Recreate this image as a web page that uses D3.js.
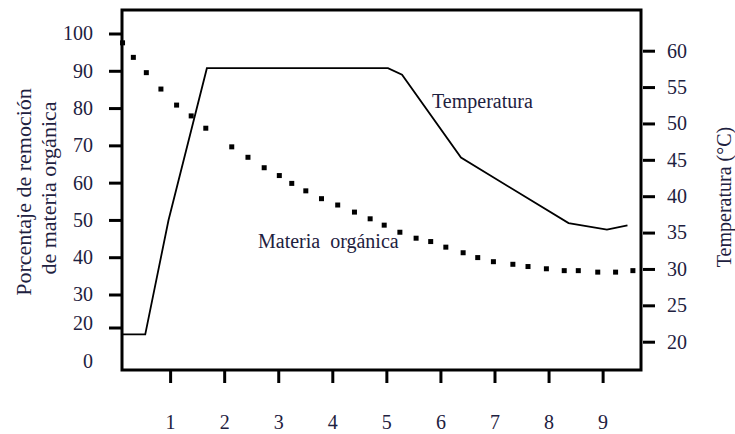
<!DOCTYPE html>
<html>
<head>
<meta charset="utf-8">
<script src="https://cdn.jsdelivr.net/npm/d3@7"></script>
<style>
  body { margin: 0; background: #fff; }
  text { font-family: "Liberation Serif", "Times New Roman", serif; fill: #1e2140; }
</style>
</head>
<body>
<div id="chart"></div>
<script>
// time axis (x), dotted series = % removal of organic matter, line = temperature
const xTicks = [1, 2, 3, 4, 5, 6, 7, 8, 9];
const leftTicks = [0, 20, 30, 40, 50, 60, 70, 80, 90, 100];
const rightTicks = [20, 25, 30, 35, 40, 45, 50, 55, 60];

const materiaX = [0.12, 0.32, 0.56, 0.83, 1.12, 1.39, 1.66, 2.14, 2.44, 2.74, 3.02, 3.25, 3.51, 3.80,
  4.10, 4.41, 4.70, 4.96, 5.25, 5.55, 5.82, 6.10, 6.42, 6.69, 6.98, 7.34, 7.62, 7.96, 8.29, 8.55,
  8.91, 9.24, 9.56];
const materiaY = [97.5, 93.6, 89.5, 85.1, 80.8, 77.9, 74.6, 69.6, 66.8, 64.0, 61.9, 59.8, 57.8, 55.7,
  54.0, 52.1, 50.3, 48.6, 46.7, 45.1, 44.2, 42.7, 41.2, 39.9, 38.8, 38.1, 37.5, 36.9, 36.4, 36.4,
  36.0, 36.0, 36.4];

const tempX = [0.11, 0.54, 0.97, 1.68, 5.03, 5.29, 6.38, 8.37, 9.08, 9.46];
const tempY = [21.0, 21.0, 36.7, 57.6, 57.6, 56.7, 45.3, 36.3, 35.4, 36.0];

const w = 735;
const h = 434;
const frame = { left: 122, right: 641, top: 10, bottom: 370 };

const xScale = d3.scaleLinear().domain([0.11, 9.71]).range([frame.left, frame.right]);
// left axis is broken below 20 (0 sits just under the 20 tick)
const yLeft = d3.scaleLinear().domain([0, 20, 30, 100]).range([361, 327.5, 294.5, 33.5]);
const yRight = d3.scaleLinear().domain([20, 60]).range([341.7, 50.7]);

const svg = d3.select("#chart")
  .append("svg")
  .attr("width", w)
  .attr("height", h);

// frame
svg.append("rect")
  .attr("x", frame.left)
  .attr("y", frame.top)
  .attr("width", frame.right - frame.left)
  .attr("height", frame.bottom - frame.top)
  .attr("fill", "none")
  .attr("stroke", "#000")
  .attr("stroke-width", 3);

const styleAxis = (g) => {
  g.select(".domain").remove();
  g.selectAll(".tick line").attr("stroke", "#000").attr("stroke-width", 3);
  g.selectAll(".tick text").attr("font-size", 20).attr("fill", "#1e2140")
    .attr("font-family", "Liberation Serif, serif");
};

svg.append("g")
  .attr("transform", `translate(${frame.left}, 0)`)
  .call(d3.axisLeft(yLeft).tickValues(leftTicks).tickSize(13).tickPadding(16))
  .call(styleAxis)
  .call(g => g.selectAll(".tick").filter(d => d === 0).select("line").remove())
  .call(g => g.selectAll(".tick").filter(d => d === 20).select("text").attr("y", -4));

svg.append("g")
  .attr("transform", `translate(${frame.right + 2}, 0)`)
  .call(d3.axisRight(yRight).tickValues(rightTicks).tickSize(12).tickPadding(12))
  .call(styleAxis);

svg.append("g")
  .attr("transform", `translate(0, ${frame.bottom})`)
  .call(d3.axisBottom(xScale).tickValues(xTicks).tickSize(13).tickPadding(32))
  .call(styleAxis);

// temperature line
const line = d3.line()
  .x((d, i) => xScale(tempX[i]))
  .y(d => yRight(d));

svg.append("path")
  .datum(tempY)
  .attr("d", line)
  .attr("fill", "none")
  .attr("stroke", "#000")
  .attr("stroke-width", 1.8);

// organic matter dotted series
svg.selectAll("rect.dot")
  .data(materiaY)
  .enter()
  .append("rect")
  .attr("class", "dot")
  .attr("x", (d, i) => xScale(materiaX[i]) - 2.5)
  .attr("y", d => yLeft(d) - 2.5)
  .attr("width", 5)
  .attr("height", 5)
  .attr("fill", "#000");

// labels
svg.append("text")
  .attr("x", 432)
  .attr("y", 108)
  .attr("font-size", 20)
  .text("Temperatura");

svg.append("text")
  .attr("x", 258)
  .attr("y", 248)
  .attr("font-size", 20)
  .style("white-space", "pre")
  .text("Materia  orgánica");

svg.append("text")
  .attr("transform", "translate(23, 192) rotate(-90)")
  .attr("text-anchor", "middle")
  .attr("dy", "0.35em")
  .attr("font-size", 22)
  .text("Porcentaje de remoción");

svg.append("text")
  .attr("transform", "translate(48, 188) rotate(-90)")
  .attr("text-anchor", "middle")
  .attr("dy", "0.35em")
  .attr("font-size", 22)
  .text("de materia orgánica");

svg.append("text")
  .attr("transform", "translate(724, 197) rotate(-90)")
  .attr("text-anchor", "middle")
  .attr("dy", "0.35em")
  .attr("font-size", 20)
  .text("Temperatura (°C)");
</script>
</body>
</html>
